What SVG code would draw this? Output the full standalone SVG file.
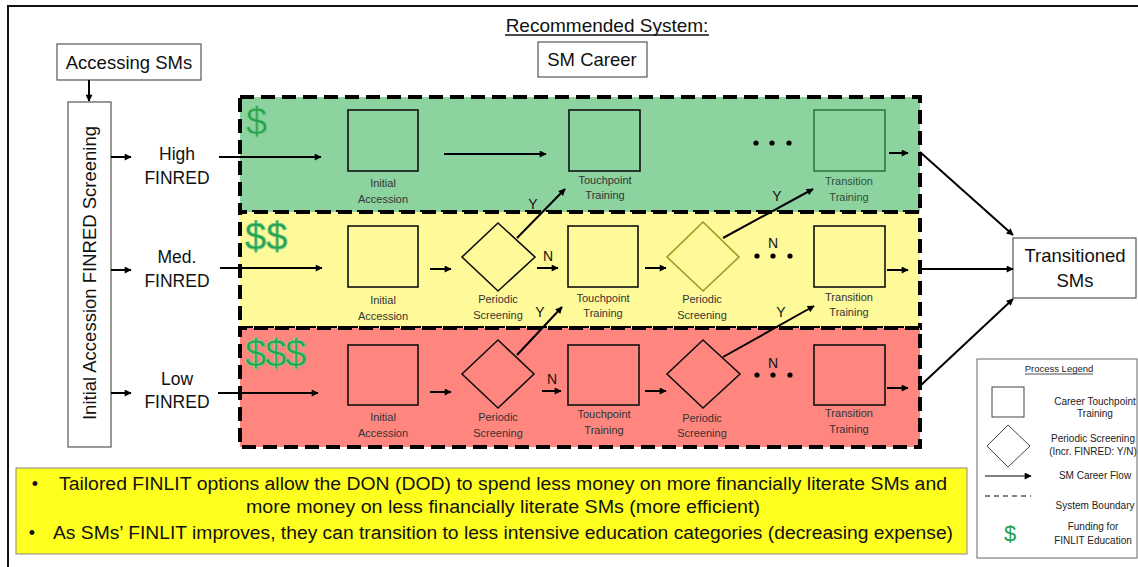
<svg xmlns="http://www.w3.org/2000/svg" width="1138" height="567" viewBox="0 0 1138 567">
  <defs>
    <marker id="arr" viewBox="0 0 10 10" refX="9" refY="5" markerWidth="8" markerHeight="7" markerUnits="userSpaceOnUse" orient="auto">
      <path d="M0,0 L10,5 L0,10 z" fill="#000"/>
    </marker>
    <style>
      .big { font-family: "Liberation Sans", Arial, sans-serif; font-size: 18.5px; fill: #111; text-anchor: middle; }
      .sm { font-family: "Liberation Sans", Arial, sans-serif; font-size: 11px; fill: #333; text-anchor: middle; }
      .yn { font-family: "Liberation Sans", Arial, sans-serif; font-size: 14px; fill: #111; text-anchor: middle; }
      .lg { font-family: "Liberation Sans", Arial, sans-serif; font-size: 10px; fill: #222; text-anchor: middle; }
      .note { font-family: "Liberation Sans", Arial, sans-serif; font-size: 18px; fill: #111; text-anchor: middle; }
      .money { font-family: "Liberation Sans", Arial, sans-serif; font-size: 38px; fill: #22A04A; stroke: #6FCB86; stroke-width: 0.8; }
      .box { fill: #fff; stroke: #555; stroke-width: 1.2; }
      .step { fill: none; stroke: #111; stroke-width: 1.6; }
      .flow { fill: none; stroke: #000; stroke-width: 2; marker-end: url(#arr); }
      .band { stroke: #000; stroke-width: 4; stroke-dasharray: 14 7; }
      .dot { fill: #000; }
    </style>
  </defs>

  <!-- outer frame -->
  <rect x="8" y="6" width="1140" height="580" fill="#fff" stroke="#111" stroke-width="2"/>

  <!-- heading -->
  <g id="title">
    <text class="big" x="607" y="32" style="font-size:19px">Recommended System:</text>
    <line x1="505" y1="35" x2="709" y2="35" stroke="#111" stroke-width="1.3"/>
  </g>
  <g id="sm-career">
    <rect class="box" x="538" y="42" width="109" height="35"/>
    <text class="big" x="592" y="66">SM Career</text>
  </g>

  <!-- bands (system boundaries) -->
  <g id="band-high">
    <rect class="band" x="240" y="97" width="680" height="115" fill="#8DD3A0"/>
    <text class="money" x="246" y="135">$</text>
  </g>
  <g id="band-med">
    <rect class="band" x="240" y="212" width="680" height="116" fill="#FFFA99" style="stroke-dashoffset:7"/>
    <text class="money" x="245" y="250">$$</text>
  </g>
  <g id="band-low">
    <rect class="band" x="240" y="328" width="680" height="119" fill="#FF867E" style="stroke-dashoffset:7"/>
    <text class="money" x="245" y="367" letter-spacing="-1">$$$</text>
  </g>

  <!-- left side -->
  <g id="accessing-sms">
    <rect class="box" x="57" y="44" width="144" height="36"/>
    <text class="big" x="129" y="69">Accessing SMs</text>
  </g>
  <g id="accession-screening">
    <rect class="box" x="68" y="102" width="43" height="345"/>
    <text class="big" transform="translate(96,273) rotate(-90)">Initial Accession FINRED Screening</text>
  </g>
  <g id="label-high">
    <text class="big" x="177" y="160" style="font-size:17.5px">High</text>
    <text class="big" x="177" y="184" style="font-size:17.5px">FINRED</text>
  </g>
  <g id="label-med">
    <text class="big" x="177" y="263" style="font-size:17.5px">Med.</text>
    <text class="big" x="177" y="287" style="font-size:17.5px">FINRED</text>
  </g>
  <g id="label-low">
    <text class="big" x="177" y="385" style="font-size:17.5px">Low</text>
    <text class="big" x="177" y="408" style="font-size:17.5px">FINRED</text>
  </g>

  <!-- high row -->
  <g id="high-initial">
    <rect class="step" x="348" y="110" width="70" height="61"/>
    <text class="sm" x="383" y="187">Initial</text>
    <text class="sm" x="383" y="203">Accession</text>
  </g>
  <g id="high-touchpoint">
    <rect class="step" x="569" y="110" width="71" height="61"/>
    <text class="sm" x="605" y="184">Touchpoint</text>
    <text class="sm" x="605" y="199">Training</text>
  </g>
  <g id="high-transition">
    <rect class="step" x="814" y="110" width="71" height="61" style="stroke:#2E7A3E"/>
    <text class="sm" x="849" y="185" style="fill:#2F4F38">Transition</text>
    <text class="sm" x="849" y="201" style="fill:#2F4F38">Training</text>
  </g>

  <!-- med row -->
  <g id="med-initial">
    <rect class="step" x="348" y="226" width="70" height="61"/>
    <text class="sm" x="383" y="304">Initial</text>
    <text class="sm" x="383" y="320">Accession</text>
  </g>
  <g id="med-screening-1">
    <polygon class="step" points="498,223 535,257 498,291 462,257"/>
    <text class="sm" x="498" y="303">Periodic</text>
    <text class="sm" x="498" y="319">Screening</text>
  </g>
  <g id="med-touchpoint">
    <rect class="step" x="568" y="226" width="70" height="61"/>
    <text class="sm" x="603" y="302">Touchpoint</text>
    <text class="sm" x="603" y="317">Training</text>
  </g>
  <g id="med-screening-2">
    <polygon class="step" points="703,222 739,257 703,291 667,257" style="stroke:#9A9A22"/>
    <text class="sm" x="702" y="303">Periodic</text>
    <text class="sm" x="702" y="319">Screening</text>
  </g>
  <g id="med-transition">
    <rect class="step" x="814" y="226" width="71" height="61"/>
    <text class="sm" x="849" y="301">Transition</text>
    <text class="sm" x="849" y="316">Training</text>
  </g>

  <!-- low row -->
  <g id="low-initial">
    <rect class="step" x="348" y="345" width="70" height="60"/>
    <text class="sm" x="383" y="421">Initial</text>
    <text class="sm" x="383" y="437">Accession</text>
  </g>
  <g id="low-screening-1">
    <polygon class="step" points="498,340 534,374 498,408 462,374"/>
    <text class="sm" x="498" y="421">Periodic</text>
    <text class="sm" x="498" y="437">Screening</text>
  </g>
  <g id="low-touchpoint">
    <rect class="step" x="568" y="345" width="71" height="60"/>
    <text class="sm" x="604" y="418">Touchpoint</text>
    <text class="sm" x="604" y="434">Training</text>
  </g>
  <g id="low-screening-2">
    <polygon class="step" points="703,340 740,374 703,408 667,374"/>
    <text class="sm" x="702" y="422">Periodic</text>
    <text class="sm" x="702" y="437">Screening</text>
  </g>
  <g id="low-transition">
    <rect class="step" x="814" y="345" width="71" height="60"/>
    <text class="sm" x="849" y="417">Transition</text>
    <text class="sm" x="849" y="433">Training</text>
  </g>

  <!-- outcome -->
  <g id="transitioned-sms">
    <rect class="box" x="1013" y="238" width="123" height="60"/>
    <text class="big" x="1075" y="262">Transitioned</text>
    <text class="big" x="1075" y="287">SMs</text>
  </g>

  <!-- connectors -->
  <g id="connectors">
    <line class="flow" x1="89" y1="80" x2="89" y2="101"/>
    <line class="flow" x1="111" y1="157" x2="131" y2="157"/>
    <line class="flow" x1="111" y1="270" x2="131" y2="270"/>
    <line class="flow" x1="111" y1="393" x2="131" y2="393"/>
    <line class="flow" x1="219" y1="157" x2="321" y2="157"/>
    <line class="flow" x1="220" y1="268" x2="322" y2="268"/>
    <line class="flow" x1="218" y1="393" x2="318" y2="393"/>

    <!-- high row -->
    <line class="flow" x1="444" y1="154" x2="546" y2="154"/>
    <line class="flow" x1="889" y1="153" x2="908" y2="153"/>

    <!-- med row -->
    <line class="flow" x1="430" y1="269" x2="451" y2="269"/>
    <line class="flow" x1="537" y1="268" x2="558" y2="268"/>
    <line class="flow" x1="645" y1="268" x2="666" y2="268"/>
    <line class="flow" x1="887" y1="270" x2="908" y2="270"/>
    <line class="flow" x1="517" y1="238" x2="565" y2="189"/>
    <line class="flow" x1="723" y1="238" x2="813" y2="189"/>

    <!-- low row -->
    <line class="flow" x1="430" y1="392" x2="451" y2="392"/>
    <line class="flow" x1="542" y1="391" x2="561" y2="391"/>
    <line class="flow" x1="645" y1="391" x2="666" y2="391"/>
    <line class="flow" x1="887" y1="388" x2="908" y2="388"/>
    <line class="flow" x1="517" y1="355" x2="562" y2="307"/>
    <line class="flow" x1="723" y1="357" x2="814" y2="306"/>

    <!-- into outcome -->
    <line class="flow" x1="920" y1="152" x2="1013" y2="235"/>
    <line class="flow" x1="920" y1="269" x2="1013" y2="269"/>
    <line class="flow" x1="920" y1="386" x2="1013" y2="299"/>

    <!-- Y / N decisions -->
    <text class="yn" x="533" y="209">Y</text>
    <text class="yn" x="777" y="201">Y</text>
    <text class="yn" x="548" y="261">N</text>
    <text class="yn" x="773" y="248">N</text>
    <text class="yn" x="540" y="317">Y</text>
    <text class="yn" x="781" y="317">Y</text>
    <text class="yn" x="552" y="384">N</text>
    <text class="yn" x="773" y="368">N</text>

    <!-- ellipses -->
    <circle class="dot" cx="756" cy="143" r="2.6"/>
    <circle class="dot" cx="772" cy="143" r="2.6"/>
    <circle class="dot" cx="789" cy="143" r="2.6"/>
    <circle class="dot" cx="757" cy="256" r="2.6"/>
    <circle class="dot" cx="773" cy="256" r="2.6"/>
    <circle class="dot" cx="790" cy="256" r="2.6"/>
    <circle class="dot" cx="757" cy="375" r="2.6"/>
    <circle class="dot" cx="773" cy="375" r="2.6"/>
    <circle class="dot" cx="790" cy="375" r="2.6"/>
  </g>

  <!-- legend -->
  <g id="legend">
    <rect class="box" x="977" y="359" width="160" height="199" style="stroke:#666;stroke-width:1"/>
    <text class="lg" x="1059" y="372" style="font-size:9.5px">Process Legend</text>
    <line x1="1025" y1="374" x2="1093" y2="374" stroke="#222" stroke-width="0.8"/>
    <rect x="992" y="387" width="32" height="30" fill="none" stroke="#444" stroke-width="1"/>
    <text class="lg" x="1095" y="405">Career Touchpoint</text>
    <text class="lg" x="1095" y="417">Training</text>
    <polygon points="1008,425 1030,446 1008,467 987,446" fill="none" stroke="#444" stroke-width="1"/>
    <text class="lg" x="1093" y="442">Periodic Screening</text>
    <text class="lg" x="1093" y="455">(Incr. FINRED: Y/N)</text>
    <line x1="985" y1="476" x2="1031" y2="476" stroke="#000" stroke-width="1.2" marker-end="url(#arr)"/>
    <text class="lg" x="1095" y="479">SM Career Flow</text>
    <line x1="985" y1="496" x2="1031" y2="496" stroke="#000" stroke-width="1.2" stroke-dasharray="5 4"/>
    <text class="lg" x="1095" y="509">System Boundary</text>
    <text x="1010" y="541" font-family="Liberation Sans, Arial, sans-serif" font-size="22" fill="#22A04A" text-anchor="middle">$</text>
    <text class="lg" x="1093" y="530">Funding for</text>
    <text class="lg" x="1093" y="544">FINLIT Education</text>
  </g>

  <!-- summary note -->
  <g id="summary">
    <rect x="16" y="468" width="951" height="86" fill="#FFFF1F" stroke="#888" stroke-width="1"/>
    <text class="note" x="35" y="490">•</text>
    <text class="note" x="503" y="490" textLength="888" lengthAdjust="spacingAndGlyphs">Tailored FINLIT options allow the DON (DOD) to spend less money on more financially literate SMs and</text>
    <text class="note" x="503" y="513" textLength="514" lengthAdjust="spacingAndGlyphs">more money on less financially literate SMs (more efficient)</text>
    <text class="note" x="32" y="539">•</text>
    <text class="note" x="503" y="539" textLength="900" lengthAdjust="spacingAndGlyphs">As SMs’ FINLIT improves, they can transition to less intensive education categories (decreasing expense)</text>
  </g>
</svg>
